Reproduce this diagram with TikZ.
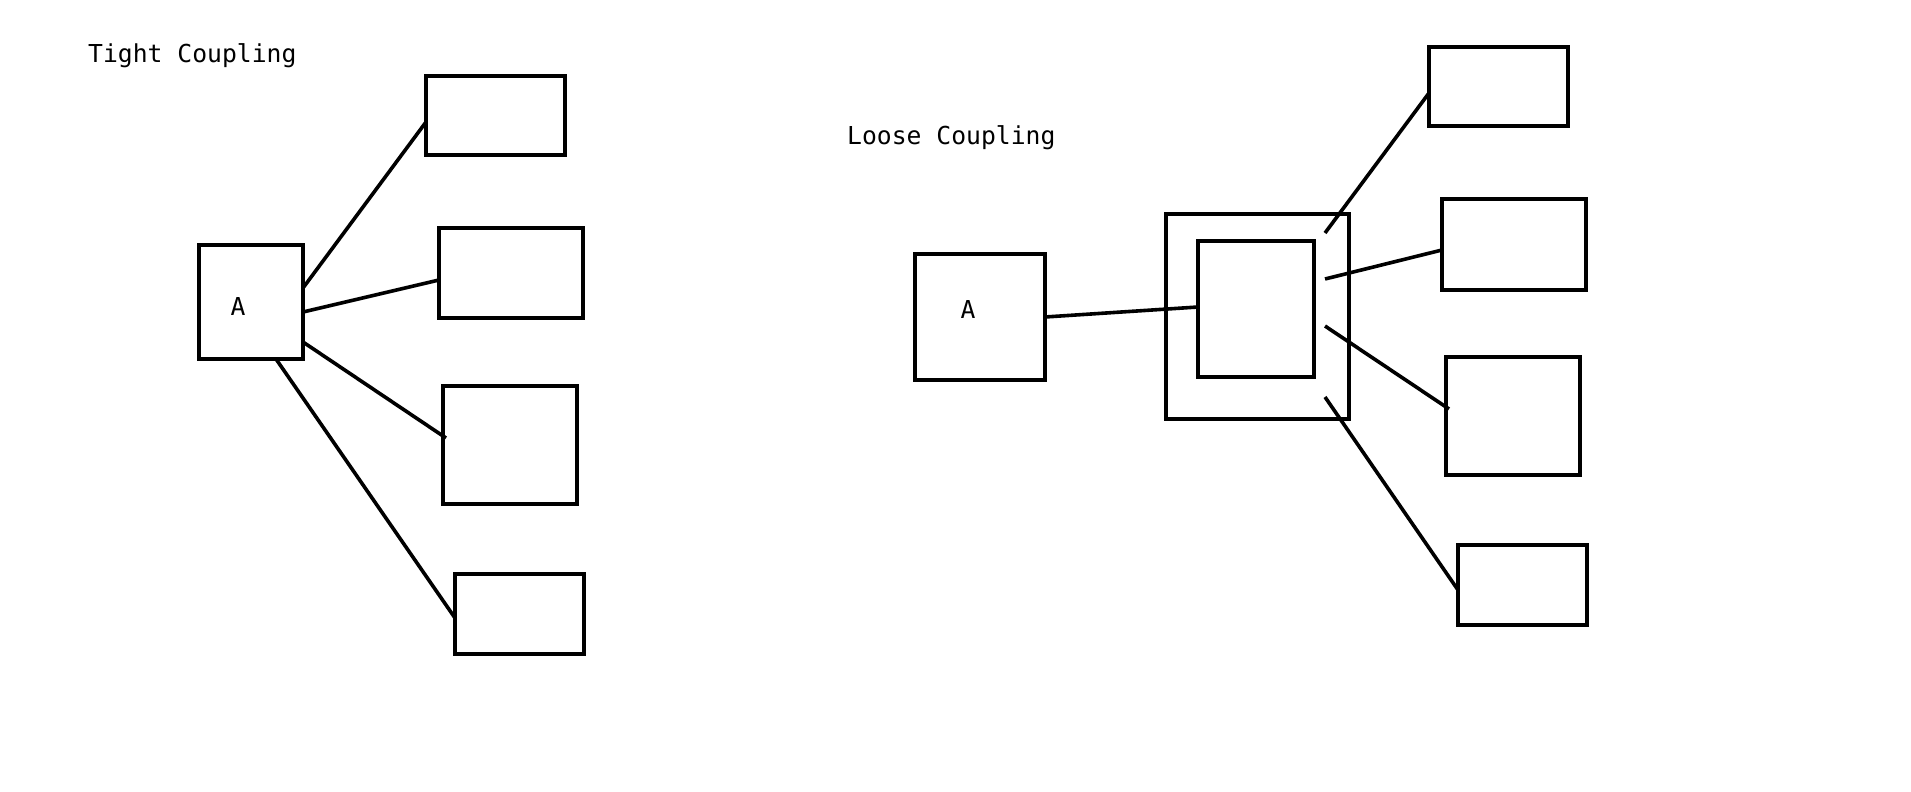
\documentclass[tikz,border=0pt]{standalone}
\usepackage{fontspec}
\setmainfont{DejaVu Sans Mono}
\usetikzlibrary{positioning}

\begin{document}
\begin{tikzpicture}[x=1pt,y=-1pt,
  box/.style={draw,line width=4pt,inner sep=0pt,outer sep=0pt},
  conn/.style={line width=3.6pt},
  txt/.style={font=\fontsize{24.7}{30}\selectfont,inner sep=0pt}]
\useasboundingbox (0,0) rectangle (1911,792);

\node[txt,anchor=base west] (tight) at (88,63) {Tight Coupling};
\node[box,minimum width=104pt,minimum height=114pt] (tA) at (251,302) {};
\node[txt,anchor=base] (tAl) at (238,315) {A};
\node[box,minimum width=139pt,minimum height=79pt] (b1) at (495.5,115.5) {};
\node[box,minimum width=144pt,minimum height=90pt] (b2) at (511,273) {};
\node[box,minimum width=134pt,minimum height=118pt] (b3) at (510,445) {};
\node[box,minimum width=129pt,minimum height=80pt] (b4) at (519.5,614) {};
\draw[conn] ([yshift=14pt]tA.east) -- ([yshift=-6.5pt]b1.west);
\draw[conn] ([yshift=-10pt]tA.east) -- ([yshift=-7pt]b2.west);
\draw[conn] ([yshift=-40pt]tA.east) -- ([xshift=3pt,yshift=7pt]b3.west);
\draw[conn] ([xshift=25pt]tA.south) -- ([yshift=-4pt]b4.west);

\node[txt,anchor=base west] (loose) at (847,144) {Loose Coupling};
\node[box,minimum width=130pt,minimum height=126pt] (lA) at (980,317) {};
\node[txt,anchor=base] (lAl) at (968,318) {A};
\node[box,minimum width=183pt,minimum height=205pt] (outer) at (1257.5,316.5) {};
\node[box,minimum width=116pt,minimum height=136pt] (inner) at (1256,309) {};
\node[box,minimum width=139pt,minimum height=79pt] (c1) at (1498.5,86.5) {};
\node[box,minimum width=144pt,minimum height=91pt] (c2) at (1514,244.5) {};
\node[box,minimum width=134pt,minimum height=118pt] (c3) at (1513,416) {};
\node[box,minimum width=129pt,minimum height=80pt] (c4) at (1522.5,585) {};
\draw[conn] (lA.east) -- ([yshift=2pt]inner.west);
\draw[conn] ([xshift=11pt,yshift=76pt]inner.east) -- ([yshift=-6.5pt]c1.west);
\draw[conn] ([xshift=11pt,yshift=30pt]inner.east) -- ([yshift=-5.5pt]c2.west);
\draw[conn] ([xshift=11pt,yshift=-17pt]inner.east) -- ([xshift=3pt,yshift=7pt]c3.west);
\draw[conn] ([xshift=11pt,yshift=-88pt]inner.east) -- ([yshift=-5pt]c4.west);
\end{tikzpicture}
\end{document}
